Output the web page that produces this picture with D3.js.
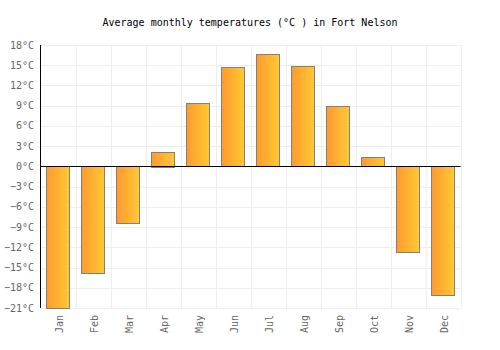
<!DOCTYPE html>
<html><head><meta charset="utf-8">
<script src="https://cdn.jsdelivr.net/npm/d3@7"></script>
<style>body{margin:0;background:#fff}</style>
</head><body>
<svg id="c" width="500" height="350"></svg>
<script>
const months = ["Jan","Feb","Mar","Apr","May","Jun","Jul","Aug","Sep","Oct","Nov","Dec"];
const temps = [-21.0,-15.9,-8.4,2.2,9.4,14.7,16.6,14.9,8.9,1.4,-12.8,-19.2];
const yTicks = [-21,-18,-15,-12,-9,-6,-3,0,3,6,9,12,15,18];
const title = "Average monthly temperatures (°C ) in Fort Nelson";

const svg = d3.select("#c");
const L=40.5, R=460.5, T=45, B=308;
const x = d3.scaleBand().domain(months).range([L,R]).paddingInner(0).paddingOuter(0);
const y = d3.scaleLinear().domain([-21,18]).range([B,T]);
const font = "'DejaVu Sans Mono', monospace";

const defs = svg.append("defs");
const g = defs.append("linearGradient").attr("id","bg").attr("x1","0").attr("x2","1").attr("y1","0").attr("y2","0");
g.append("stop").attr("offset","0%").attr("stop-color","#ff9a2f");
g.append("stop").attr("offset","100%").attr("stop-color","#ffc933");

// grid
svg.append("g").selectAll("line").data(yTicks).join("line")
  .attr("x1",L).attr("x2",R).attr("y1",d=>Math.round(y(d))+0.5).attr("y2",d=>Math.round(y(d))+0.5)
  .attr("stroke","#eeeeee").attr("stroke-width",1);
svg.append("g").selectAll("line").data(months).join("line")
  .attr("x1",d=>Math.round(x(d)+x.bandwidth())+0.5).attr("x2",d=>Math.round(x(d)+x.bandwidth())+0.5)
  .attr("y1",T).attr("y2",B)
  .attr("stroke","#eeeeee").attr("stroke-width",1);

// bars
const bw = x.bandwidth()*0.66;
svg.append("g").selectAll("rect").data(temps).join("rect")
  .attr("x",(d,i)=>Math.round(x(months[i])+(x.bandwidth()-bw)/2)+0.5)
  .attr("width",Math.round(bw))
  .attr("y",d=>Math.round(y(Math.max(0,d)))+0.5)
  .attr("height",d=>Math.round(Math.abs(y(d)-y(0))))
  .attr("fill","url(#bg)").attr("stroke","#808080").attr("stroke-width",1);

// zero line & axis
svg.append("line").attr("x1",L).attr("x2",R).attr("y1",Math.round(y(0))+0.5).attr("y2",Math.round(y(0))+0.5)
  .attr("stroke","#000").attr("stroke-width",1);
svg.append("line").attr("x1",L).attr("x2",L).attr("y1",T).attr("y2",B)
  .attr("stroke","#000").attr("stroke-width",1);

// y labels
svg.append("g").selectAll("text").data(yTicks).join("text")
  .attr("x",L-6.5).attr("y",d=>y(d)+3.5)
  .attr("text-anchor","end").attr("font-family",font).attr("font-size",10).attr("fill","#666")
  .text(d=>(d<0?"\u2212"+Math.abs(d):d)+"°C");

// x labels
svg.append("g").selectAll("text").data(months).join("text")
  .attr("transform",d=>`translate(${x(d)+x.bandwidth()/2+5},${B+7}) rotate(-90)`)
  .attr("text-anchor","end").attr("font-family",font).attr("font-size",10).attr("fill","#666")
  .text(d=>d);

// title
svg.append("text").attr("x",250).attr("y",26).attr("text-anchor","middle")
  .attr("font-family",font).attr("font-size",10).attr("fill","#000").text(title);
</script>
</body></html>
